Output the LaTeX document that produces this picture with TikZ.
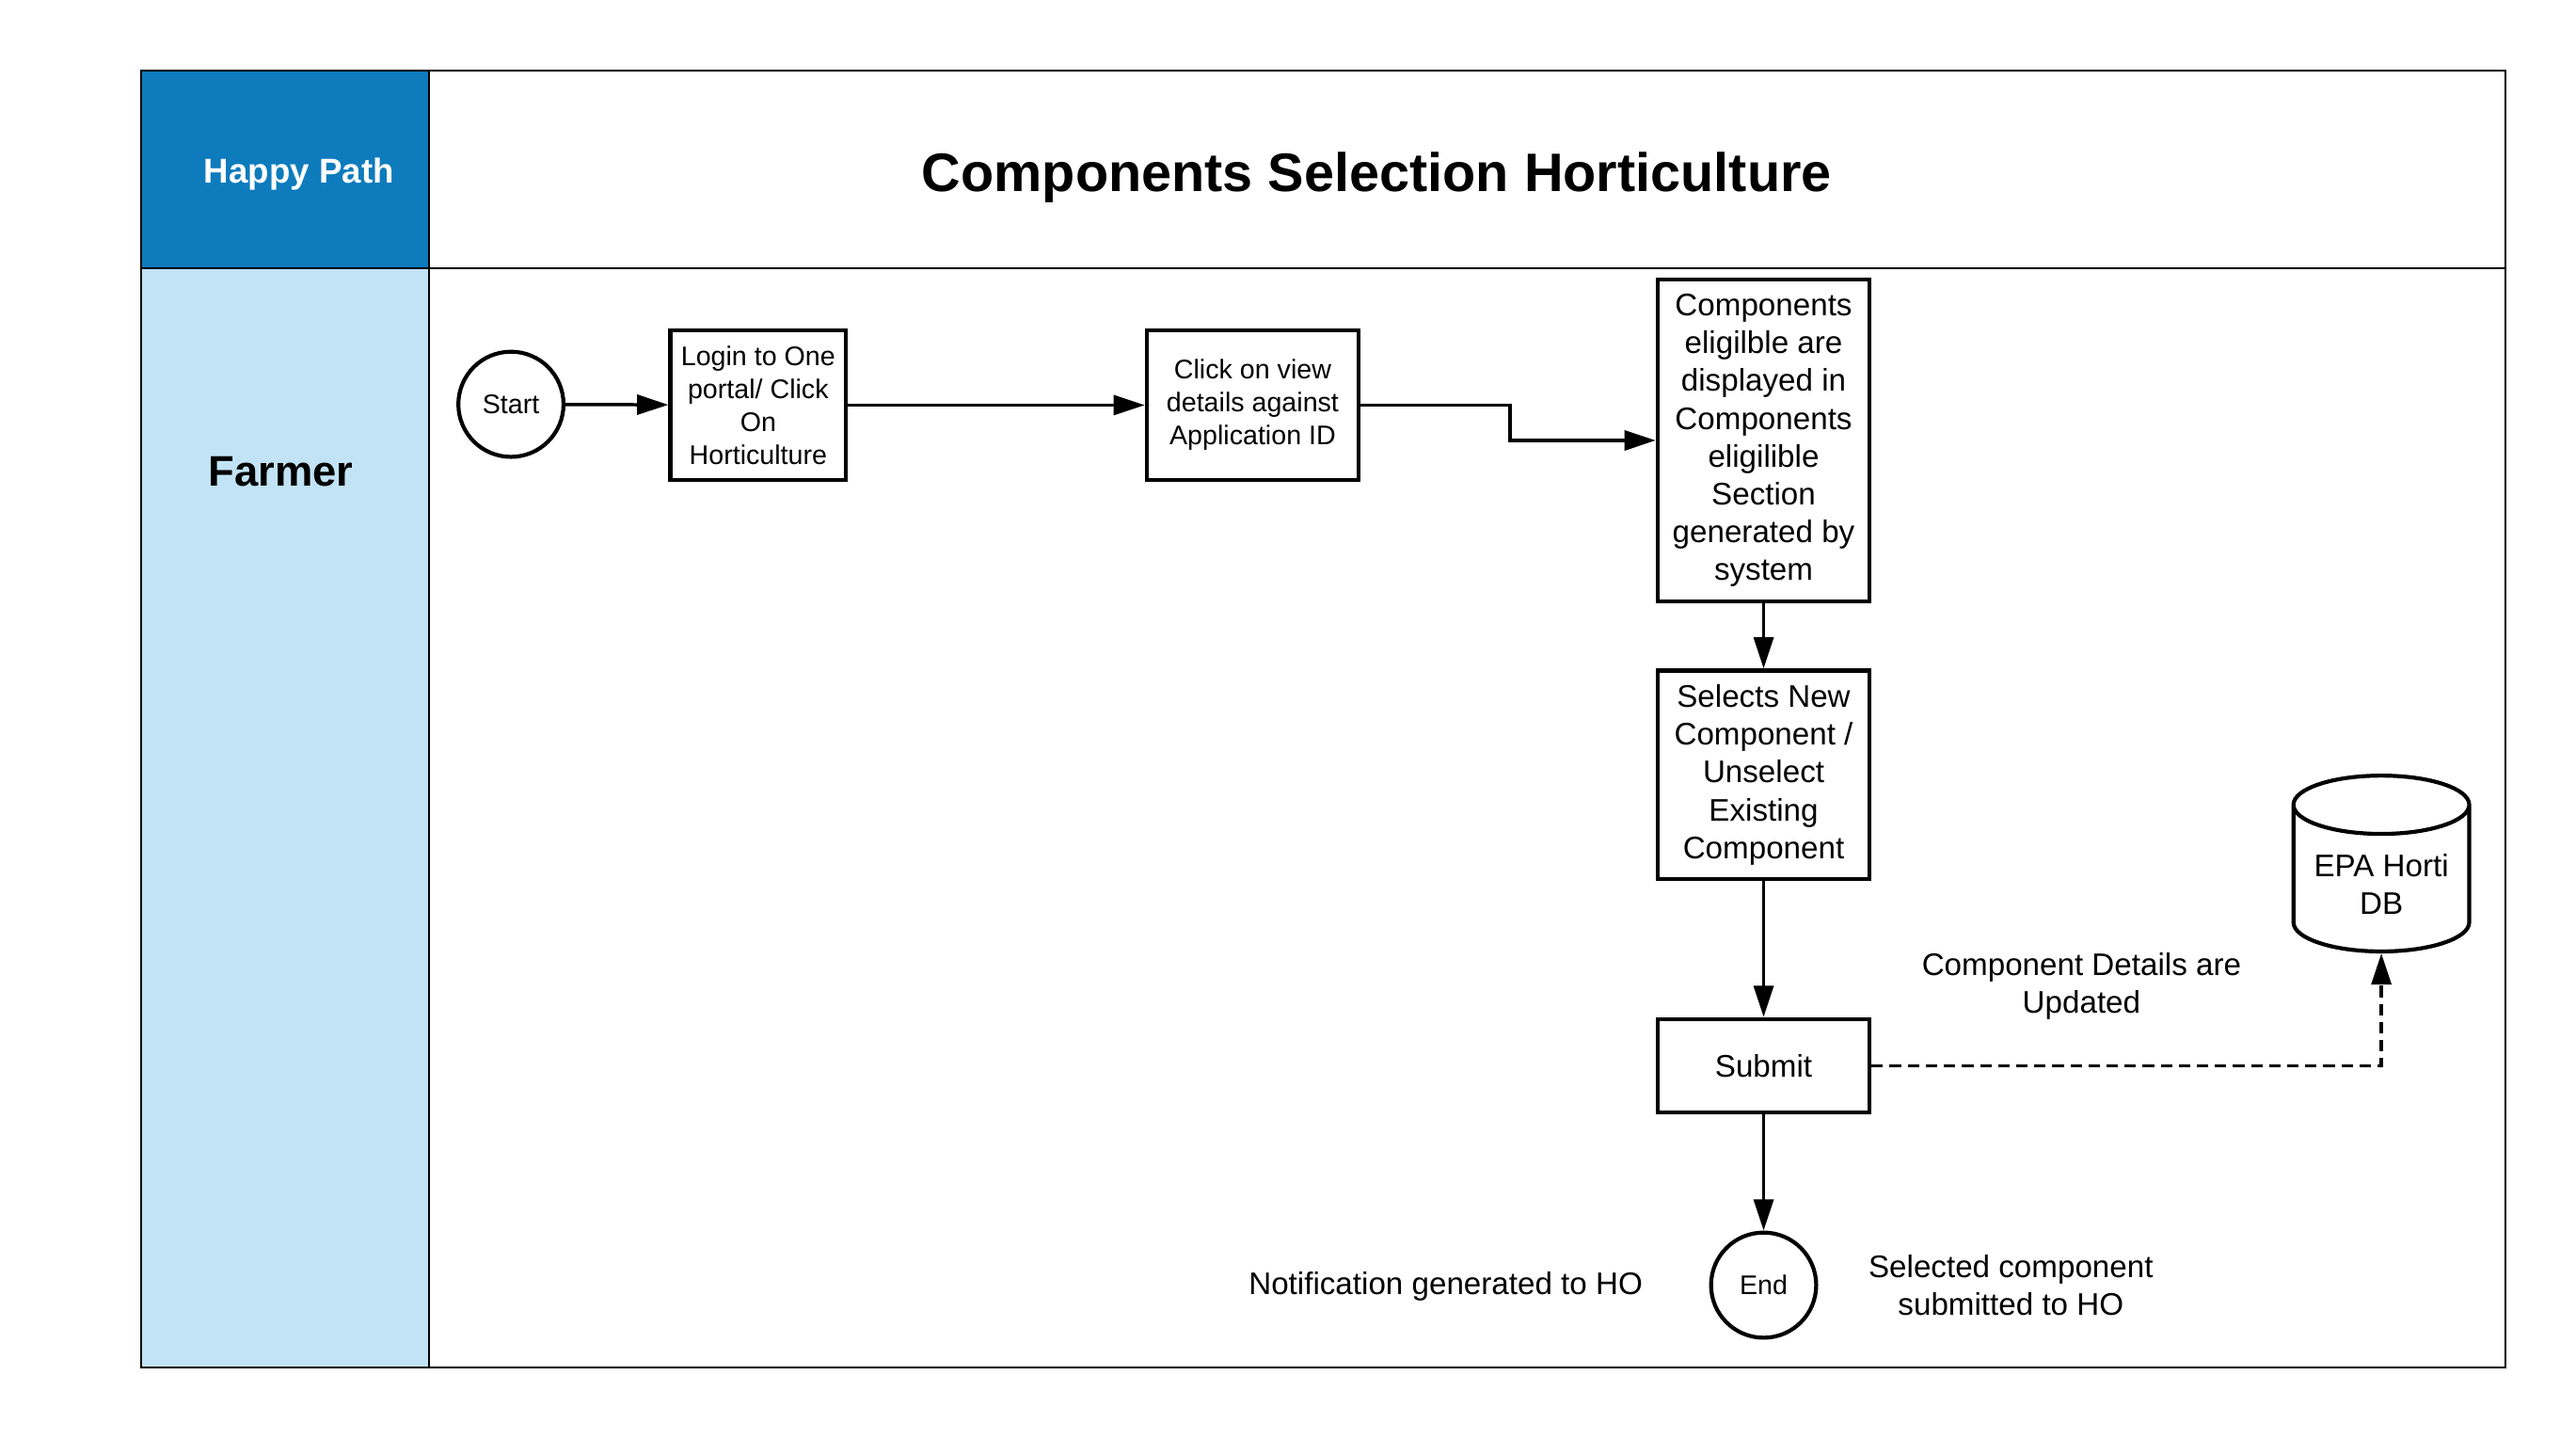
\documentclass[tikz,border=0pt]{standalone}
\usepackage{fontspec}
\setmainfont{Liberation Sans}
\usetikzlibrary{arrows.meta,shapes.geometric}
\definecolor{pathblue}{HTML}{0E7BBD}
\definecolor{laneblue}{HTML}{C1E3F5}
\tikzset{
  stepbox/.style={draw,line width=2.4pt,align=center,inner sep=2pt,font=\fontsize{19}{23}\selectfont,minimum width=129pt},
  smallbox/.style={stepbox,font=\fontsize{16.4}{20}\selectfont},
  terminal/.style={draw,circle,line width=2.4pt,minimum size=64pt,inner sep=0pt,font=\fontsize{16.4}{20}\selectfont},
  dbnode/.style={draw,cylinder,shape border rotate=90,aspect=0.4,line width=2.4pt,minimum width=107pt,minimum height=107pt,align=center,font=\fontsize{19}{23}\selectfont},
  flow/.style={line width=2pt,-{Triangle[length=19pt,width=12pt]}},
  dbflow/.style={flow,dash pattern=on 7pt off 4pt},
  note/.style={align=center,font=\fontsize{19}{23}\selectfont}
}
\begin{document}
\begin{tikzpicture}[x=1pt,y=-1pt]
  \useasboundingbox (0,0) rectangle (1568,875.1);
  \fill[pathblue] (86,43) rectangle (261,163);
  \fill[laneblue] (86,163) rectangle (261,832);
  \draw[line width=1.2pt] (86,43) rectangle (1525,832);
  \draw[line width=1.2pt] (86,163) -- (1525,163);
  \draw[line width=1.2pt] (261,43) -- (261,832);
  \node[text=white,font=\bfseries\fontsize{21}{25}\selectfont] (happy) at (182,106) {Happy Path};
  \node[font=\bfseries\fontsize{33}{40}\selectfont] (title) at (838,108) {Components Selection Horticulture};
  \node[font=\bfseries\fontsize{26}{31}\selectfont] (farmer) at (171,287) {Farmer};
  \node[terminal] (start) at (311,246) {Start};
  \node[smallbox,minimum width=107pt,minimum height=91pt] (login) at (461.5,246.5) {Login to One\\portal/ Click\\On\\Horticulture};
  \node[smallbox,minimum height=91pt] (click) at (762.5,246.5) {Click on view\\details against\\Application ID};
  \node[stepbox,minimum height=196pt] (comp) at (1073.5,268) {Components\\eligilble are\\displayed in\\Components\\eligilible\\Section\\generated by\\system};
  \node[stepbox,minimum height=127pt] (select) at (1073.5,471.5) {Selects New\\Component /\\Unselect\\Existing\\Component};
  \node[stepbox,minimum height=57pt] (submit) at (1073.5,648.5) {Submit};
  \node[terminal] (end) at (1073.5,782) {End};
  \node[dbnode] (db) at (1449.5,538) {EPA Horti\\DB};
  \node[note] (updated) at (1267,600) {Component Details are\\Updated};
  \node[note] (notify) at (880,783) {Notification generated to HO};
  \node[note] (selected) at (1224,782) {Selected component\\submitted to HO};
  \draw[flow] (start) -- (login);
  \draw[flow] (login) -- (click);
  \draw[flow] (click.east) -- ++(91,0) |- (comp.west);
  \draw[flow] (comp) -- (select);
  \draw[flow] (select) -- (submit);
  \draw[flow] (submit) -- (end);
  \draw[dbflow] (submit.east) -| (db.south);
\end{tikzpicture}
\end{document}
